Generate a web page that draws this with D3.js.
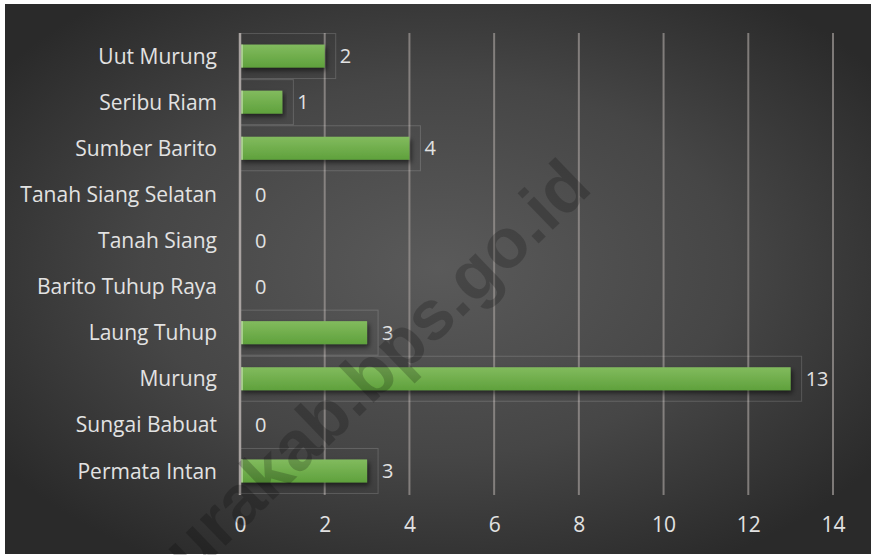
<!DOCTYPE html>
<html>
<head>
<meta charset="utf-8">
<script src="https://cdn.jsdelivr.net/npm/d3@7"></script>
<style>
  body { margin: 0; background: #fff; }
  svg { display: block; }
</style>
</head>
<body>
<svg id="chart" width="871" height="555"></svg>
<script>
// kecamatan, top to bottom as drawn
const categories = ["Uut Murung", "Seribu Riam", "Sumber Barito", "Tanah Siang Selatan",
  "Tanah Siang", "Barito Tuhup Raya", "Laung Tuhup", "Murung", "Sungai Babuat", "Permata Intan"];
const values = [2, 1, 4, 0, 0, 0, 3, 13, 0, 3];
const xTicks = [0, 2, 4, 6, 8, 10, 12, 14];

const svg = d3.select("#chart");
const font = "'Open Sans', sans-serif";

let defs = svg.append("defs");

let bg = defs.append("radialGradient").attr("id", "bg")
  .attr("cx", "50%").attr("cy", "48%").attr("r", "62%");
bg.append("stop").attr("offset", "0%").attr("stop-color", "#5a5a5a");
bg.append("stop").attr("offset", "55%").attr("stop-color", "#464646");
bg.append("stop").attr("offset", "100%").attr("stop-color", "#2a2a2a");

let barGrad = defs.append("linearGradient").attr("id", "bar")
  .attr("x1", 0).attr("y1", 0).attr("x2", 0).attr("y2", 1);
barGrad.append("stop").attr("offset", "0%").attr("stop-color", "#82bb5e");
barGrad.append("stop").attr("offset", "100%").attr("stop-color", "#5fa13c");

let shadow = defs.append("filter").attr("id", "shadow")
  .attr("x", "-5%").attr("y", "-30%").attr("width", "115%").attr("height", "190%");
shadow.append("feDropShadow").attr("dx", 2).attr("dy", 3).attr("stdDeviation", 2.5)
  .attr("flood-color", "#000").attr("flood-opacity", 0.55);

svg.append("rect").attr("x", 5).attr("y", 4).attr("width", 866).attr("height", 550)
  .attr("fill", "url(#bg)");

const x = d3.scaleLinear().domain([0, 14]).range([240, 833]);
const y = d3.scaleBand().domain(categories).range([33, 494]);
const barH = 23;
const rows = values.map((v, i) => ({v, c: categories[i]}));

// gridlines
svg.append("g").selectAll("line").data(xTicks.slice(1)).join("line")
  .attr("x1", d => x(d)).attr("x2", d => x(d))
  .attr("y1", 33).attr("y2", 495)
  .attr("stroke", "#9a9492").attr("stroke-opacity", 0.75).attr("stroke-width", 2);

// faint label boxes
svg.append("g").selectAll("rect").data(rows.filter(d => d.v > 0))
  .join("rect")
  .attr("x", x(0)).attr("y", d => y(d.c) + y.bandwidth() / 2 - 22.5)
  .attr("width", d => x(d.v) - x(0) + 11).attr("height", 45)
  .attr("fill", "none").attr("stroke", "#ffffff").attr("stroke-opacity", 0.16);

// bars
let bars = svg.append("g").selectAll("g").data(rows).join("g");
bars.filter(d => d.v > 0).append("rect")
  .attr("x", x(0)).attr("y", d => y(d.c) + (y.bandwidth() - barH) / 2)
  .attr("width", d => x(d.v) - x(0)).attr("height", barH)
  .attr("fill", "url(#bar)").attr("filter", "url(#shadow)");
bars.filter(d => d.v > 0).append("rect")
  .attr("x", x(0)).attr("y", d => y(d.c) + (y.bandwidth() - barH) / 2)
  .attr("width", 3).attr("height", barH)
  .attr("fill", "#b5d89c").attr("opacity", 0.8);

// value labels
bars.append("text")
  .attr("x", d => x(d.v) + 15).attr("y", d => y(d.c) + y.bandwidth() / 2)
  .attr("dy", "0.36em")
  .attr("font-family", font).attr("font-size", 20)
  .attr("fill", "#e2e2e2")
  .text(d => d.v);

// axis line
svg.append("line").attr("x1", x(0)).attr("x2", x(0)).attr("y1", 33).attr("y2", 495)
  .attr("stroke", "#a8a2a0").attr("stroke-width", 2.5);

// y axis labels
let yAxis = svg.append("g").attr("transform", "translate(217,0)")
  .call(d3.axisLeft(y).tickSize(0).tickPadding(0));
yAxis.select(".domain").remove();
yAxis.selectAll("text").attr("font-family", font).attr("font-size", 21)
  .attr("fill", "#e2e2e2").attr("dy", "0.36em");

// x axis labels
let xAxis = svg.append("g").attr("transform", "translate(0,517)")
  .call(d3.axisBottom(x).tickValues(xTicks).tickSize(0).tickPadding(0));
xAxis.select(".domain").remove();
xAxis.selectAll("text").attr("font-family", font).attr("font-size", 21)
  .attr("fill", "#e2e2e2");

// watermark
svg.append("text")
  .attr("transform", "translate(594,190) rotate(-44)")
  .attr("text-anchor", "end")
  .attr("font-family", "'Liberation Sans', sans-serif").attr("font-weight", "bold")
  .attr("font-size", 70)
  .attr("fill", "#000").attr("fill-opacity", 0.2)
  .text("murakab.bps.go.id");
</script>
</body>
</html>
